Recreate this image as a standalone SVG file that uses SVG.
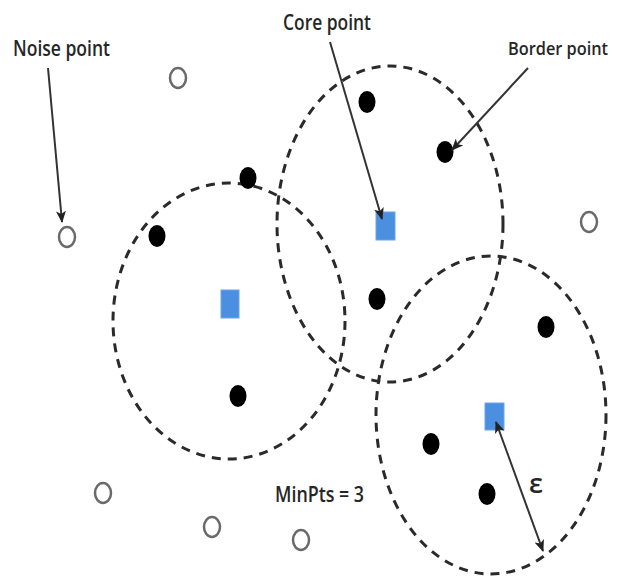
<svg xmlns="http://www.w3.org/2000/svg" width="619" height="582" viewBox="0 0 619 582">
<style>
.lbl{font-family:"Open Sans","Liberation Sans",sans-serif;fill:#262626;font-weight:600;}
.eps{fill:none;stroke:#2a2a2a;stroke-width:3;stroke-dasharray:9 7;}
.noise{fill:#fff;stroke:#6a6a6a;stroke-width:2.5;}
.bord{fill:#000;}
.core{fill:#4a8fe0;stroke:#6aa6ea;stroke-width:1;}
.arr{stroke:#333;stroke-width:2;fill:none;}
</style>
<defs>
<marker id="ah" viewBox="0 0 12 10" refX="11" refY="5" markerWidth="12" markerHeight="10" orient="auto-start-reverse" markerUnits="userSpaceOnUse">
<path d="M0,0 L12,5 L0,10 L3,5 z" fill="#222"/>
</marker>
</defs>
<rect width="619" height="582" fill="#fff"/>
<g id="neighbourhoods">
<ellipse id="eps1" class="eps" cx="229" cy="321" rx="116" ry="138"/>
<ellipse id="eps2" class="eps" cx="390" cy="224" rx="113" ry="158"/>
<ellipse id="eps3" class="eps" cx="491" cy="415" rx="115" ry="159"/>
</g>
<g id="noise-points">
<ellipse class="noise" cx="178" cy="78" rx="8" ry="10"/>
<ellipse class="noise" cx="67" cy="237" rx="8" ry="10"/>
<ellipse class="noise" cx="589" cy="222" rx="8" ry="10"/>
<ellipse class="noise" cx="103" cy="493" rx="8" ry="10"/>
<ellipse class="noise" cx="212" cy="527" rx="8" ry="10"/>
<ellipse class="noise" cx="301" cy="540" rx="8" ry="10"/>
</g>
<g id="border-points">
<ellipse class="bord" cx="248" cy="178" rx="8.5" ry="11"/>
<ellipse class="bord" cx="157" cy="236" rx="8.5" ry="11"/>
<ellipse class="bord" cx="238" cy="396" rx="8.5" ry="11"/>
<ellipse class="bord" cx="367" cy="102" rx="8.5" ry="11"/>
<ellipse class="bord" cx="445" cy="152" rx="8.5" ry="11"/>
<ellipse class="bord" cx="377" cy="299" rx="8.5" ry="11"/>
<ellipse class="bord" cx="546" cy="327" rx="8.5" ry="11"/>
<ellipse class="bord" cx="431" cy="444" rx="8.5" ry="11"/>
<ellipse class="bord" cx="487" cy="494" rx="8.5" ry="11"/>
</g>
<g id="core-points">
<rect class="core" x="221" y="290" width="18" height="28"/>
<rect class="core" x="376" y="212" width="19" height="28"/>
<rect class="core" x="485" y="403" width="19" height="27"/>
</g>
<g id="connectors">
<line class="arr" x1="48" y1="68" x2="62" y2="222" marker-end="url(#ah)"/>
<line class="arr" x1="330" y1="42" x2="382" y2="219" marker-end="url(#ah)"/>
<line class="arr" x1="528" y1="68" x2="452" y2="150" marker-end="url(#ah)"/>
<line class="arr" x1="496" y1="422" x2="543" y2="551" marker-start="url(#ah)" marker-end="url(#ah)"/>
</g>
<g id="labels">
<text class="lbl" x="13" y="56" font-size="21" textLength="97" lengthAdjust="spacingAndGlyphs">Noise point</text>
<text class="lbl" x="283" y="30" font-size="21" textLength="88" lengthAdjust="spacingAndGlyphs">Core point</text>
<text class="lbl" x="508" y="55" font-size="17.5" textLength="100" lengthAdjust="spacingAndGlyphs">Border point</text>
<text class="lbl" x="275" y="502" font-size="21" textLength="89" lengthAdjust="spacingAndGlyphs">MinPts = 3</text>
<text class="lbl" x="529" y="493" font-size="27" font-weight="400">ε</text>
</g>
</svg>
